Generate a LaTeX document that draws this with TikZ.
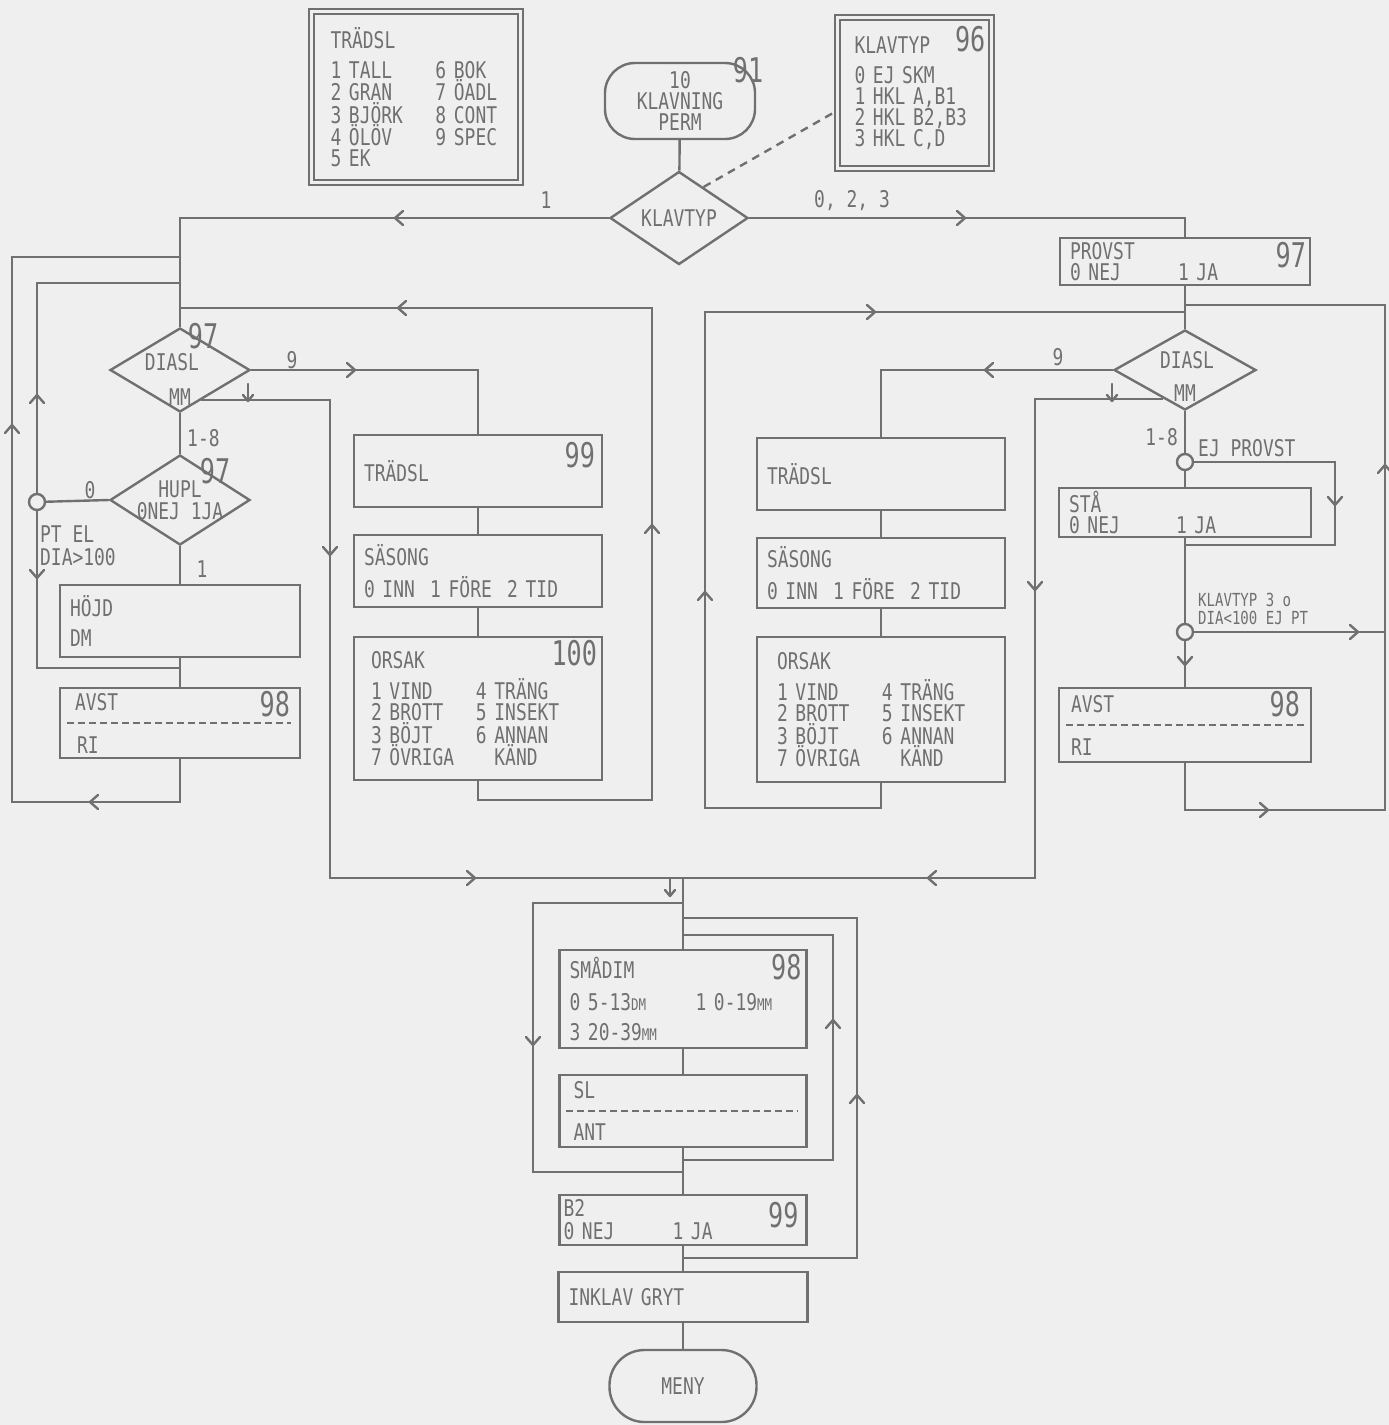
\documentclass[tikz,border=0pt]{standalone}
\usepackage{fontspec}
\setmainfont{DejaVu Sans Mono}[FakeStretch=0.78]
\newfontfamily\bignum{DejaVu Sans Mono}[FakeStretch=0.74]
\usetikzlibrary{shapes.geometric, positioning, calc}

\definecolor{ink}{RGB}{112,112,112}
\definecolor{paper}{RGB}{239,239,239}

\newcommand{\txt}{\fontsize{23}{21}\selectfont}
\newcommand{\smalltxt}{\fontsize{18}{18}\selectfont}
\newcommand{\numtxt}{\bignum\fontsize{34}{34}\selectfont}
\newcommand{\lowc}[1]{{\fontsize{16}{16}\selectfont #1}}

\begin{document}
\begin{tikzpicture}[
    x=1pt, y=-1pt,
    font=\txt, text=ink,
    flow/.style={draw=ink, line width=2.4pt},
    tipline/.style={draw=ink, line width=2.4pt, line cap=round, line join=round},
    box/.style={
        draw=ink, line width=2.4pt,
        inner xsep=10pt, inner ysep=0pt,
        text width=#1, align=left
    },
    box/.default=228pt,
    legend/.style={
        draw=ink, line width=2pt, double=paper, double distance=3.5pt,
        inner xsep=19pt, inner ysep=0pt, align=left
    },
    term/.style={
        draw=ink, line width=2.4pt, align=center,
        minimum width=150pt, minimum height=76pt
    },
    dia/.style={
        draw=ink, line width=2.4pt, diamond, aspect=1.6, inner sep=0pt
    },
    junct/.style={
        draw=ink, fill=paper, line width=2.4pt, circle,
        minimum size=16pt, inner sep=0pt
    },
    num/.style={anchor=north east, font=\numtxt, text=ink, inner sep=0pt},
    lbl/.style={font=\txt, text=ink, inner sep=0pt},
    sep/.style={draw=ink, line width=1.6pt, dashed, dash pattern=on 7pt off 4pt}
]

%% ── Arrow marks ────────────────────────────
\tikzset{
    tipR/.pic={\draw[tipline] (-8,-7) -- (0,0) -- (-8,7);},
    tipL/.pic={\draw[tipline] (8,-7) -- (0,0) -- (8,7);},
    tipU/.pic={\draw[tipline] (-7,8) -- (0,0) -- (7,8);},
    tipD/.pic={\draw[tipline] (-7,-8) -- (0,0) -- (7,-8);},
    tick/.pic={
        \draw[tipline] (0,-9) -- (0,8);
        \draw[tipline] (-5,2) -- (0,8) -- (5,2);
    }
}

\useasboundingbox[fill=paper] (0,0) rectangle (1389,1425);

% ══════════════════════════════════════
%  TOP: legends, start, KLAVTYP
% ══════════════════════════════════════
\node[legend, minimum width=209pt, minimum height=171pt, text width=171pt]
    (trlist) at (416,97) {TRÄDSL\\[9pt]
    \makebox[105pt][l]{1 TALL}6 BOK\\
    \makebox[105pt][l]{2 GRAN}7 ÖADL\\
    \makebox[105pt][l]{3 BJÖRK}8 CONT\\
    \makebox[105pt][l]{4 ÖLÖV}9 SPEC\\
    5 EK};

\node[legend, inner xsep=17pt, minimum width=154pt, minimum height=151pt,
      text width=120pt, label={[num, xshift=-7pt, yshift=-10pt]north east:96}]
    (ktlist) at (914.5,93)
    {KLAVTYP\\[9pt]0 EJ SKM\\1 HKL A,B1\\2 HKL B2,B3\\3 HKL C,D};

\node[term, rounded corners=30pt] (start) at (680,101) {10\\KLAVNING\\PERM};
\node[num, anchor=center] (n91) at (748,70) {91};

\node[dia, minimum width=138pt, minimum height=93pt] (klav) at (679,218) {KLAVTYP};

% ══════════════════════════════════════
%  LEFT column (KLAVTYP 1)
% ══════════════════════════════════════
\node[dia, minimum width=140pt, minimum height=84pt] (dl) at (180,370) {};
\node[lbl] (dlA) at (172,362) {DIASL};
\node[lbl] (dlB) at (180,397) {MM};
\node[num, anchor=center] (dlN) at (203,336) {97};

\node[dia, minimum width=140pt, minimum height=90pt] (hl) at (180,500) {};
\node[lbl] (hlA) at (180,489) {HUPL};
\node[lbl] (hlB) at (180,511) {0NEJ 1JA};
\node[num, anchor=center] (hlN) at (215,471) {97};

\node[junct] (ptL) at (37,502) {};

\node[box=220pt, minimum height=72pt] (hojd) at (180,621) {HÖJD\\[9pt]DM};
\node[box=220pt, minimum height=70pt,
      label={[num, xshift=-11pt, yshift=-4pt]north east:98}]
    (avstL) at (180,723) {\hspace*{5pt}AVST\\[22pt]\hspace*{7pt}RI};

\node[box, minimum height=72pt,
      label={[num, xshift=-8pt, yshift=-8pt]north east:99}]
    (trL) at (478,471) {TRÄDSL};
\node[box, minimum height=72pt] (saL) at (478,571)
    {SÄSONG\\[9pt]0 INN~~1 FÖRE~~2 TID};
\node[box, minimum height=143pt,
      label={[num, xshift=-6pt, yshift=-4pt]north east:100}]
    (orL) at (478,708.5)
    {\hspace*{7pt}ORSAK\\[9pt]
     \hspace*{7pt}\makebox[105pt][l]{1 VIND}4 TRÄNG\\
     \hspace*{7pt}\makebox[105pt][l]{2 BROTT}5 INSEKT\\
     \hspace*{7pt}\makebox[105pt][l]{3 BÖJT}6 ANNAN\\
     \hspace*{7pt}\makebox[105pt][l]{7 ÖVRIGA}\phantom{6 }KÄND};

% ══════════════════════════════════════
%  RIGHT column (KLAVTYP 0, 2, 3)
% ══════════════════════════════════════
\node[box=230pt, minimum height=47pt,
      label={[num, xshift=-5pt, yshift=-5pt]north east:97}]
    (prov) at (1185,261.5) {PROVST\\\makebox[108pt][l]{0 NEJ}1 JA};

\node[dia, minimum width=142pt, minimum height=80pt] (dr) at (1185,370) {};
\node[lbl] (drA) at (1187,360) {DIASL};
\node[lbl] (drB) at (1185,393) {MM};

\node[junct] (ejp) at (1185,462) {};
\node[box=232pt, minimum height=49pt] (sta) at (1185,512.5)
    {STÅ\\\makebox[107pt][l]{0 NEJ}1 JA};
\node[junct] (kl3) at (1185,632) {};
\node[box=232pt, minimum height=74pt,
      label={[num, xshift=-12pt, yshift=-4pt]north east:98}]
    (avstR) at (1185,725) {\hspace*{2pt}AVST\\[22pt]\hspace*{2pt}RI};

\node[box, minimum height=72pt] (trR) at (881,474) {TRÄDSL};
\node[box, minimum height=70pt] (saR) at (881,573)
    {SÄSONG\\[9pt]0 INN~~1 FÖRE~~2 TID};
\node[box, minimum height=145pt] (orR) at (881,709.5)
    {\hspace*{10pt}ORSAK\\[9pt]
     \hspace*{10pt}\makebox[105pt][l]{1 VIND}4 TRÄNG\\
     \hspace*{10pt}\makebox[105pt][l]{2 BROTT}5 INSEKT\\
     \hspace*{10pt}\makebox[105pt][l]{3 BÖJT}6 ANNAN\\
     \hspace*{10pt}\makebox[105pt][l]{7 ÖVRIGA}\phantom{6 }KÄND};

% ══════════════════════════════════════
%  BOTTOM chain
% ══════════════════════════════════════
\node[box=227pt, minimum height=98pt,
      label={[num, xshift=-6pt, yshift=-5pt]north east:98}]
    (sma) at (683,999)
    {SMÅDIM\\[11pt]\makebox[126pt][l]{0 5-13\lowc{DM}}1 0-19\lowc{MM}\\[9pt]3 20-39\lowc{MM}};
\node[box=227pt, minimum height=72pt] (sl) at (683,1111)
    {\hspace*{4pt}SL\\[21pt]\hspace*{4pt}ANT};
\node[box=227pt, minimum height=50pt,
      label={[num, xshift=-9pt, yshift=-8pt]north east:99}]
    (b2) at (683,1220)
    {\hspace*{-6pt}B2\\[2pt]\hspace*{-6pt}\makebox[109pt][l]{0 NEJ}1 JA};
\node[box=229pt, minimum height=50pt] (inklav) at (683,1297) {INKLAV GRYT};
\node[term, rounded corners=35pt, minimum width=147pt, minimum height=72pt]
    (meny) at (683,1386) {MENY};

% dashed separators
\draw[sep] ([xshift=8pt]avstL.west) -- ([xshift=-10pt]avstL.east);
\draw[sep] ([xshift=8pt]avstR.west) -- ([xshift=-8pt]avstR.east);
\draw[sep] ([xshift=8pt]sl.west) -- ([xshift=-10pt]sl.east);

% ══════════════════════════════════════
%  Junction points
% ══════════════════════════════════════
\coordinate (j1) at (180,257);
\coordinate (j2) at (180,283);
\coordinate (j3) at (180,308);
\coordinate (j4) at (180,668);
\coordinate (wl) at (12,802);
\coordinate (oLc) at (652,800);
\coordinate (bl) at (330,878);
\coordinate (jb) at (683,878);
\coordinate (br) at (1035,878);
\coordinate (k1) at (1185,305);
\coordinate (k2) at (1185,312);
\coordinate (k3) at (1185,545);
\coordinate (rc) at (1385,810);
\coordinate (oRc) at (705,808);
\coordinate (sc) at (1335,545);
\coordinate (m1) at (683,903);
\coordinate (m2) at (683,918);
\coordinate (m3) at (683,935);
\coordinate (m6) at (683,1160);
\coordinate (m4) at (683,1172);
\coordinate (m5) at (683,1258);
\coordinate (skc) at (533,1172);
\coordinate (b2c) at (857,918);
\coordinate (slc) at (833,935);

% ══════════════════════════════════════
%  Connectors
% ══════════════════════════════════════
\draw[flow] (start) -- (klav);
\draw[flow, dashed, dash pattern=on 8pt off 6pt]
    ($(klav.north)!0.35!(klav.east)$) -- ([yshift=-18pt]ktlist.west);
\draw[flow] (klav.west) -| (dl.north);
\draw[flow] (klav.east) -| (prov.north);

% left
\draw[flow] (avstL.south) |- (wl) |- (j1);
\draw[flow] (ptL) |- (j2);
\draw[flow] (ptL) |- (j4);
\draw[flow] (orL.south) |- (oLc) |- (j3);
\draw[flow] (dl.east) -| (trL.north);
\draw[flow] ($(dl.east)!0.7!(dl.south)$) -| (bl) -- (jb);
\draw[flow] (dl.south) -- (hl.north);
\draw[flow] (hl.west) -- (ptL);
\draw[flow] (hl.south) -- (hojd.north);
\draw[flow] (hojd.south) -- (avstL.north);
\draw[flow] (trL) -- (saL);
\draw[flow] (saL) -- (orL);

% right
\draw[flow] (prov.south) -- (dr.north);
\draw[flow] (avstR.south) |- (rc) |- (k1);
\draw[flow] (orR.south) |- (oRc) |- (k2);
\draw[flow] (dr.west) -| (trR.north);
\draw[flow] ($(dr.west)!0.7!(dr.south)$) -| (br) -- (jb);
\draw[flow] (dr.south) -- (ejp);
\draw[flow] (ejp) -- (sta.north);
\draw[flow] (ejp) -| (sc) -- (k3);
\draw[flow] (sta.south) -- (kl3);
\draw[flow] (kl3) -- (avstR.north);
\draw[flow] (kl3) -- (kl3 -| rc);
\draw[flow] (trR) -- (saR);
\draw[flow] (saR) -- (orR);

% bottom
\draw[flow] (jb) -- (sma.north);
\draw[flow] (m1) -| (skc) -- (m4);
\draw[flow] (m5) -| (b2c) -- (m2);
\draw[flow] (m6) -| (slc) -- (m3);
\draw[flow] (sma) -- (sl);
\draw[flow] (sl) -- (b2);
\draw[flow] (b2) -- (inklav);
\draw[flow] (inklav) -- (meny);

% arrow marks
\pic at (395,218) {tipL};
\pic at (965,218) {tipR};
\pic at (12,425) {tipU};
\pic at (90,802) {tipL};
\pic at (37,395) {tipU};
\pic at (37,578) {tipD};
\pic at (398,308) {tipL};
\pic at (652,525) {tipU};
\pic at (355,370) {tipR};
\pic at (330,555) {tipD};
\pic at (475,878) {tipR};
\pic at (248,393) {tick};
\pic at (875,312) {tipR};
\pic at (705,592) {tipU};
\pic at (985,370) {tipL};
\pic at (1112,393) {tick};
\pic at (1035,590) {tipD};
\pic at (928,878) {tipL};
\pic at (1385,465) {tipU};
\pic at (1268,810) {tipR};
\pic at (1335,505) {tipD};
\pic at (1358,632) {tipR};
\pic at (1185,665) {tipD};
\pic at (670,888) {tick};
\pic at (533,1045) {tipD};
\pic at (857,1095) {tipU};
\pic at (833,1020) {tipU};

% branch labels
\node[lbl] (l1) at (546,200) {1};
\node[lbl] (l023) at (852,201) {0, 2, 3};
\node[lbl] (l9a) at (292,360) {9};
\node[lbl] (l9b) at (1058,357) {9};
\node[lbl, anchor=west] (l18a) at (187,438) {1-8};
\node[lbl, anchor=east] (l18b) at (1178,437) {1-8};
\node[lbl] (l0) at (90,490) {0};
\node[lbl, anchor=west, align=left, font=\fontsize{23}{23}\selectfont]
    (lpt) at (40,546) {PT EL\\DIA>100};
\node[lbl] (l1b) at (202,569) {1};
\node[lbl, anchor=west] (lejp) at (1198,448) {EJ PROVST};
\node[lbl, anchor=west, align=left, font=\smalltxt]
    (lkt3) at (1198,609) {KLAVTYP 3 o\\DIA<100 EJ PT};

\end{tikzpicture}
\end{document}
